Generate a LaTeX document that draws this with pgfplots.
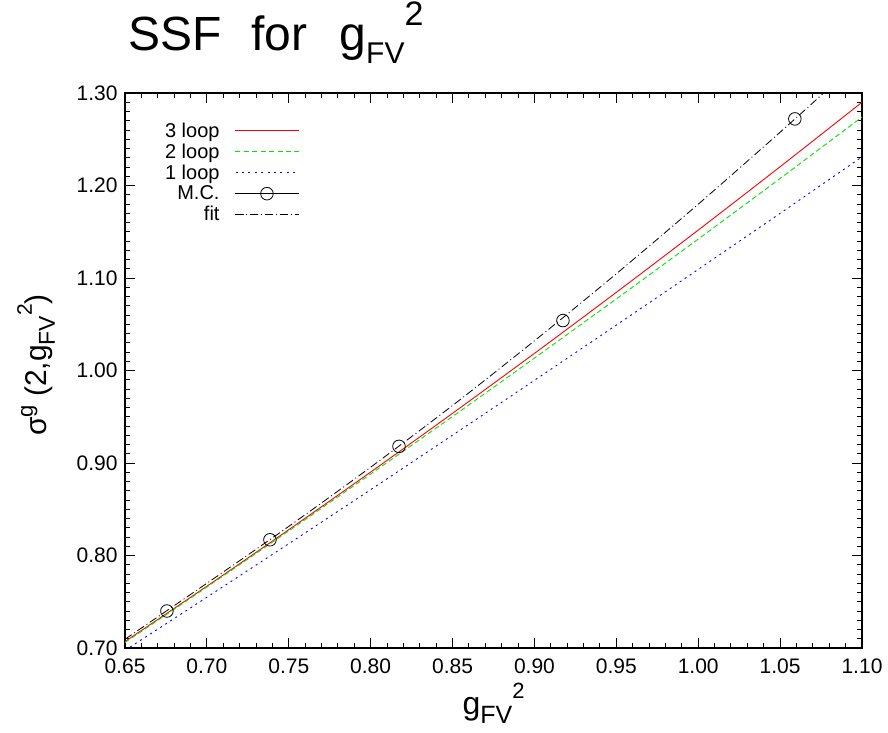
\documentclass[border=0pt]{standalone}
\usepackage{fontspec}
\setmainfont{Liberation Sans}
\usepackage{pgfplots}
\pgfplotsset{compat=1.18}
\definecolor{gpred}{RGB}{255,0,0}
\definecolor{gpgreen}{RGB}{0,230,0}
\definecolor{gpblue}{RGB}{0,0,255}
\newcommand{\lstrut}{\rule[-3pt]{0pt}{17pt}}
\begin{document}
\begin{tikzpicture}
\path[use as bounding box] (-125pt,-84pt) rectangle (763pt,648pt);
\begin{axis}[
  scale only axis, width=737pt, height=555pt,
  at={(0pt,0pt)}, anchor=south west,
  xmin=0.65, xmax=1.10, ymin=0.70, ymax=1.30,
  xtick={0.65,0.70,...,1.101}, ytick={0.70,0.80,...,1.301},
  minor x tick num=4, minor y tick num=9,
  tick align=inside,
  major tick length=10pt, minor tick length=5pt,
  axis line style={line width=1.5pt},
  tick style={black, line width=1pt},
  /pgf/number format/.cd, fixed, fixed zerofill, precision=2, assume math mode=true,
  /pgfplots/.cd,
  tick label style={font=\fontsize{21}{24}\selectfont},
  xticklabel style={yshift=-7pt},
  yticklabel style={xshift=-4pt},
  title={\fontsize{48}{56}\selectfont SSF\hspace{30pt}for\hspace{32pt}g\raisebox{-13pt}{\fontsize{30}{30}\selectfont FV}\raisebox{25pt}{\fontsize{34}{34}\selectfont 2}},
  title style={at={(rel axis cs:0.004,1.065)}, anchor=base west, inner sep=0pt},
  xlabel={\fontsize{32}{36}\selectfont g\raisebox{-9pt}{\fontsize{25}{25}\selectfont FV}\raisebox{16pt}{\fontsize{22}{22}\selectfont 2}},
  xlabel style={at={(rel axis cs:0.5,-0.119)}, anchor=base, inner sep=0pt},
  ylabel={\fontsize{30}{36}\selectfont σ\raisebox{14pt}{\fontsize{22}{22}\selectfont g}\hspace{8pt}(2,g\raisebox{-8pt}{\fontsize{23}{23}\selectfont FV}\raisebox{15pt}{\fontsize{21}{21}\selectfont 2})},
  ylabel style={at={(rel axis cs:-0.106,0.51)}, anchor=base, inner sep=0pt},
  clip=true,
  legend cell align=right,
  legend plot pos=right,
  legend image code/.code={\draw[mark repeat=2,mark phase=2,#1] plot coordinates {(0pt,0pt) (32pt,0pt) (64pt,0pt)};},
  legend style={at={(rel axis cs:0.050,0.950)}, anchor=north west, draw=none,
    font=\fontsize{20}{22}\selectfont, row sep=5pt, column sep=15pt,
    nodes={inner sep=0pt}},
]
\addplot[gpred, line width=0.9pt, smooth,
  legend image code/.code={\node[inner sep=0pt, anchor=west] at (0pt,0pt) {\textcolor{gpred}{\rule[-0.45pt]{64pt}{0.9pt}}};}] coordinates {
(0.65,0.7070) (0.70,0.7668) (0.75,0.8279) (0.80,0.8902) (0.85,0.9537)
(0.90,1.0185) (0.95,1.0845) (1.00,1.1518) (1.05,1.2203) (1.10,1.2900)};
\addlegendentry{\lstrut 3 loop}
\addplot[gpgreen, line width=0.9pt, dash pattern=on 5pt off 3pt, smooth,
  legend image code/.code={\node[inner sep=0pt, anchor=west] at (0pt,0pt) {\hbox to 64pt{\textcolor{gpgreen}{\rule[-0.45pt]{5pt}{0.9pt}}\hfill\textcolor{gpgreen}{\rule[-0.45pt]{5pt}{0.9pt}}\hfill\textcolor{gpgreen}{\rule[-0.45pt]{5pt}{0.9pt}}\hfill\textcolor{gpgreen}{\rule[-0.45pt]{5pt}{0.9pt}}\hfill\textcolor{gpgreen}{\rule[-0.45pt]{5pt}{0.9pt}}\hfill\textcolor{gpgreen}{\rule[-0.45pt]{5pt}{0.9pt}}\hfill\textcolor{gpgreen}{\rule[-0.45pt]{5pt}{0.9pt}}\hfill\textcolor{gpgreen}{\rule[-0.45pt]{5pt}{0.9pt}}}};}] coordinates {
(0.65,0.7060) (0.70,0.7659) (0.75,0.8266) (0.80,0.8881) (0.85,0.9503)
(0.90,1.0135) (0.95,1.0774) (1.00,1.1421) (1.05,1.2076) (1.10,1.2740)};
\addlegendentry{\lstrut 2 loop}
\addplot[gpblue, line width=0.9pt, dash pattern=on 2pt off 4pt, smooth,
  legend image code/.code={\node[inner sep=0pt, anchor=west] at (0pt,0pt) {\textcolor{gpblue}{\hbox to 64pt{\xleaders\hbox to 6pt{\rule[-0.45pt]{2pt}{0.9pt}\hfil}\hfill}}};}] coordinates {
(0.65,0.6974) (0.70,0.7549) (0.75,0.8128) (0.80,0.8712) (0.85,0.9301)
(0.90,0.9894) (0.95,1.0491) (1.00,1.1093) (1.05,1.1699) (1.10,1.2310)};
\addlegendentry{\lstrut 1 loop}
\addlegendimage{black, line width=0.8pt, solid, mark=o, mark size=6.3pt}
\addlegendentry{\lstrut M.C.}
\addplot[black, line width=0.8pt, dash pattern=on 8pt off 3pt on 1pt off 3pt, smooth] coordinates {
(0.65,0.7095) (0.70,0.7700) (0.75,0.8315) (0.80,0.8955) (0.85,0.9622)
(0.90,1.0321) (0.95,1.1046) (1.00,1.1798) (1.05,1.2576) (1.08,1.3055)};
\addlegendentry{\lstrut fit}
\addplot[black, only marks, mark=o, mark size=6.3pt, line width=0.8pt, forget plot] coordinates {
(0.6756,0.740) (0.7385,0.817) (0.8173,0.918) (0.9174,1.054) (1.059,1.272)};
\end{axis}
\end{tikzpicture}
\end{document}
